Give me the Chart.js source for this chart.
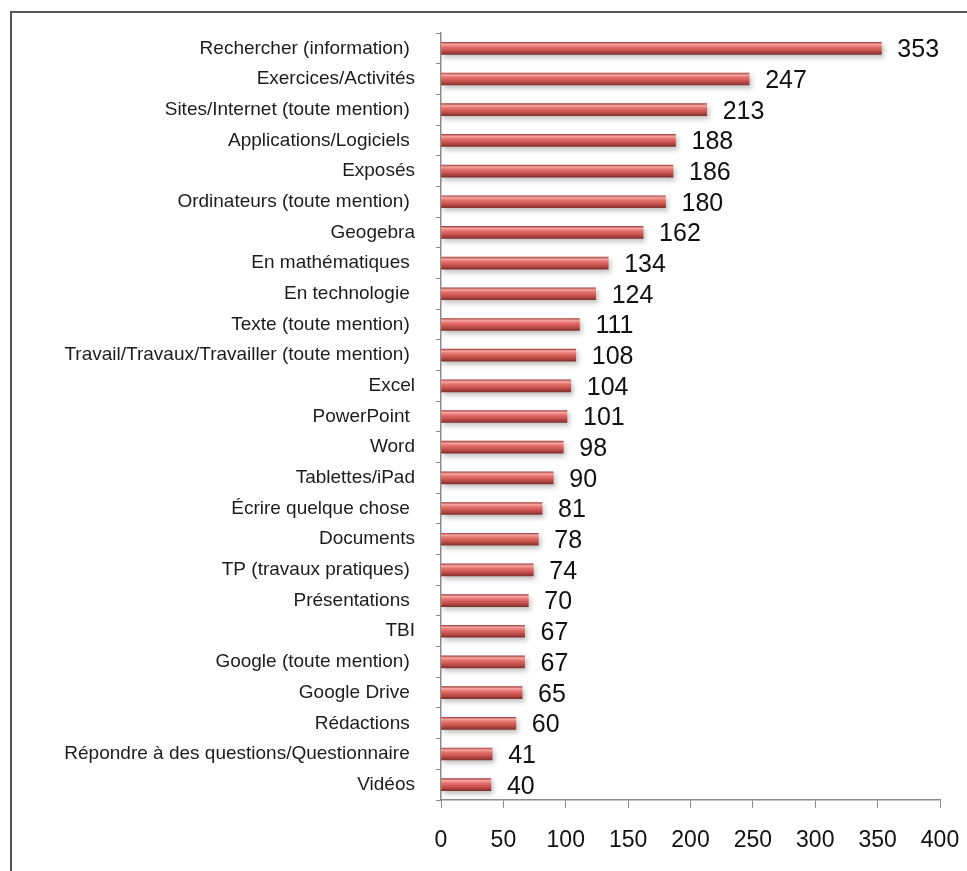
<!DOCTYPE html>
<html>
<head>
<meta charset="utf-8">
<script src="https://cdn.jsdelivr.net/npm/chart.js@4.4.1/dist/chart.umd.min.js"></script>
<style>
  html, body { margin: 0; padding: 0; background: #fff; overflow: hidden; }
  #wrap { position: relative; width: 967px; height: 871px; }
  #frame {
    position: absolute; left: 10px; top: 11px; width: 2000px; height: 2000px;
    border-left: 2px solid #555; border-top: 2px solid #555; pointer-events: none;
  }
</style>
</head>
<body>
<div id="wrap">
  <canvas id="usages" width="967" height="871"></canvas>
  <div id="frame"></div>
</div>
<script>
/** USAGES DU NUMERIQUE - BARRES HORIZONTALES **/

var categories = [
    "Rechercher (information) ",
    "Exercices/Activités",
    "Sites/Internet (toute mention) ",
    "Applications/Logiciels ",
    "Exposés",
    "Ordinateurs (toute mention) ",
    "Geogebra",
    "En mathématiques ",
    "En technologie ",
    "Texte (toute mention) ",
    "Travail/Travaux/Travailler (toute mention) ",
    "Excel",
    "PowerPoint ",
    "Word",
    "Tablettes/iPad",
    "Écrire quelque chose ",
    "Documents",
    "TP (travaux pratiques) ",
    "Présentations ",
    "TBI",
    "Google (toute mention) ",
    "Google Drive ",
    "Rédactions ",
    "Répondre à des questions/Questionnaire ",
    "Vidéos"
];
var counts = [353, 247, 213, 188, 186, 180, 162, 134, 124, 111, 108, 104, 101, 98, 90, 81, 78, 74, 70, 67, 67, 65, 60, 41, 40];
var xTicks = [0, 50, 100, 150, 200, 250, 300, 350, 400];

var BAR_H = 12;
var FONT = '"Liberation Sans", Arial, sans-serif';

// cylinder-ish gradient, built per bar from its own y position
function barGradient(context) {
    var chart = context.chart;
    var yScale = chart.scales.y;
    if (!yScale || context.dataIndex === undefined) return '#c9534f';
    var y = yScale.getPixelForValue(context.dataIndex);
    if (!isFinite(y)) return '#c9534f';
    var g = chart.ctx.createLinearGradient(0, y - BAR_H / 2, 0, y + BAR_H / 2);
    g.addColorStop(0, '#a94542');
    g.addColorStop(0.16, '#f5a7a3');
    g.addColorStop(0.38, '#e66f6a');
    g.addColorStop(0.7, '#c44f4b');
    g.addColorStop(1, '#84312e');
    return g;
}

var barShadow = {
    id: 'barShadow',
    beforeDatasetsDraw: function (chart) {
        var ctx = chart.ctx;
        ctx.save();
        ctx.shadowColor = 'rgba(0,0,0,0.25)';
        ctx.shadowBlur = 5;
        ctx.shadowOffsetX = 2;
        ctx.shadowOffsetY = 3;
    },
    afterDatasetsDraw: function (chart) {
        chart.ctx.restore();
    }
};

var valueLabels = {
    id: 'valueLabels',
    afterDatasetsDraw: function (chart) {
        var ctx = chart.ctx;
        var meta = chart.getDatasetMeta(0);
        ctx.save();
        ctx.font = '25px ' + FONT;
        ctx.fillStyle = '#111';
        ctx.textAlign = 'left';
        ctx.textBaseline = 'middle';
        meta.data.forEach(function (bar, i) {
            ctx.fillText(String(counts[i]), bar.x + 16, bar.y + 2);
        });
        ctx.restore();
    }
};

var ctx = document.getElementById("usages");

var usagesChart = new Chart(ctx, {
    type: 'bar',
    data: {
        labels: categories,
        datasets: [{
            label: '',
            data: counts,
            backgroundColor: barGradient,
            borderWidth: 0,
            barThickness: BAR_H
        }]
    },
    options: {
        indexAxis: 'y',
        responsive: false,
        animation: false,
        layout: { padding: { top: 33, right: 27, bottom: 0, left: 0 } },
        plugins: {
            legend: { display: false },
            tooltip: { enabled: false }
        },
        scales: {
            x: {
                min: 0,
                max: 400,
                afterBuildTicks: function (scale) {
                    scale.ticks = xTicks.map(function (v) { return { value: v }; });
                },
                afterFit: function (scale) {
                    scale.height = 71;
                    scale.paddingLeft = 0;
                    scale.paddingRight = 0;
                },
                grid: {
                    drawOnChartArea: false,
                    tickLength: 8,
                    color: '#8c8c8c'
                },
                border: { color: '#8c8c8c', width: 1.5 },
                ticks: {
                    padding: 19,
                    color: '#111',
                    font: { family: FONT, size: 23 }
                }
            },
            y: {
                afterFit: function (scale) {
                    scale.width = 441;
                    scale.paddingTop = 0;
                    scale.paddingBottom = 0;
                },
                grid: {
                    drawOnChartArea: false,
                    offset: true,
                    tickLength: 5,
                    color: '#8c8c8c'
                },
                border: { color: '#8c8c8c', width: 1.5 },
                ticks: {
                    padding: 21,
                    autoSkip: false,
                    color: '#1c1c1c',
                    font: { family: FONT, size: 19 }
                }
            }
        }
    },
    plugins: [barShadow, valueLabels]
});
</script>
</body>
</html>
